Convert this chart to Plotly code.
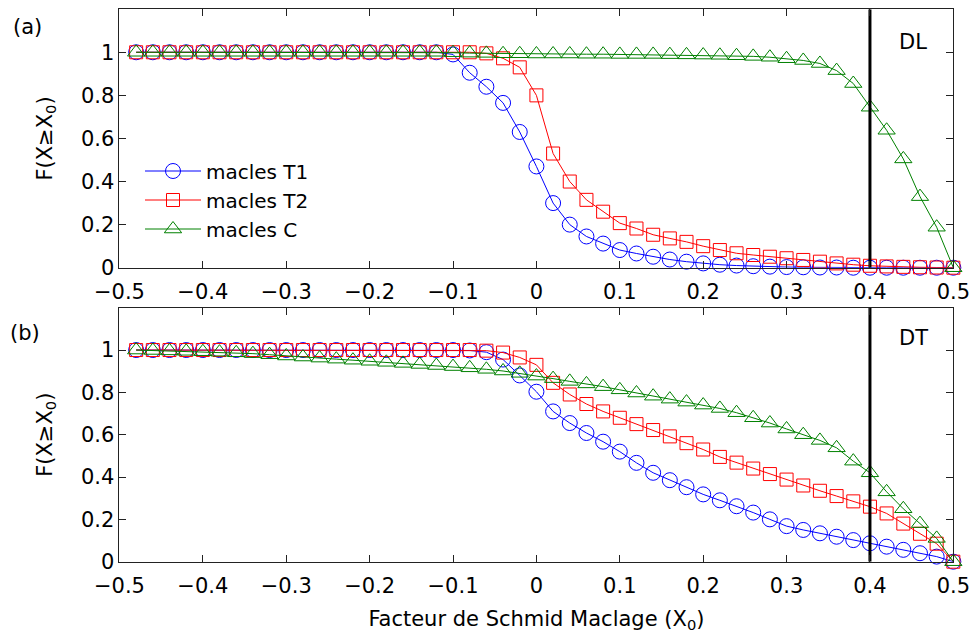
import plotly.graph_objects as go

# ---------------- data ----------------
x0 = [-0.48, -0.46, -0.44, -0.42, -0.40, -0.38, -0.36, -0.34, -0.32, -0.30,
      -0.28, -0.26, -0.24, -0.22, -0.20, -0.18, -0.16, -0.14, -0.12, -0.10,
      -0.08, -0.06, -0.04, -0.02, 0.00, 0.02, 0.04, 0.06, 0.08, 0.10,
      0.12, 0.14, 0.16, 0.18, 0.20, 0.22, 0.24, 0.26, 0.28, 0.30,
      0.32, 0.34, 0.36, 0.38, 0.40, 0.42, 0.44, 0.46, 0.48, 0.50]

# panel (a) DL
dl_t1 = [1.0] * 19 + [0.99, 0.905, 0.84, 0.765, 0.63, 0.47, 0.30, 0.20, 0.145, 0.112,
                      0.082, 0.066, 0.051, 0.038, 0.028, 0.02, 0.014, 0.01, 0.007, 0.005,
                      0.003, 0.002, 0.001, 0.001, 0.0, 0.0, 0.0, 0.0, 0.0, 0.0, 0.0]
dl_t2 = [1.0] * 21 + [0.995, 0.972, 0.93, 0.80, 0.53, 0.40, 0.315, 0.26, 0.207, 0.182,
                      0.153, 0.136, 0.12, 0.10, 0.082, 0.067, 0.059, 0.051, 0.044, 0.036,
                      0.028, 0.02, 0.014, 0.009, 0.006, 0.004, 0.002, 0.001, 0.0]
dl_c = [1.0] * 19 + [0.998, 0.996, 0.995, 0.993, 0.993, 0.992, 0.992, 0.992, 0.991, 0.991,
                     0.99, 0.99, 0.99, 0.989, 0.988, 0.987, 0.986, 0.984, 0.981, 0.977,
                     0.97, 0.962, 0.948, 0.915, 0.855, 0.745, 0.638, 0.505, 0.33, 0.188, 0.0]

# panel (b) DT
dt_t1 = [1.0] * 20 + [0.998, 0.99, 0.955, 0.88, 0.803, 0.71, 0.655, 0.608, 0.567, 0.52,
                      0.467, 0.42, 0.385, 0.352, 0.318, 0.29, 0.262, 0.232, 0.2, 0.168,
                      0.15, 0.134, 0.118, 0.102, 0.087, 0.071, 0.056, 0.04, 0.024, 0.0]
dt_t2 = [1.0] * 21 + [0.997, 0.988, 0.965, 0.93, 0.845, 0.79, 0.745, 0.71, 0.68, 0.65,
                      0.622, 0.592, 0.56, 0.53, 0.495, 0.468, 0.44, 0.414, 0.388, 0.36,
                      0.335, 0.31, 0.285, 0.26, 0.228, 0.18, 0.132, 0.085, 0.0]
dt_c = [1.0, 0.998, 0.996, 0.994, 0.992, 0.99, 0.987, 0.983, 0.978, 0.972,
        0.967, 0.962, 0.957, 0.952, 0.947, 0.942, 0.937, 0.932, 0.927, 0.922,
        0.916, 0.909, 0.901, 0.89, 0.877, 0.865, 0.852, 0.84, 0.827, 0.812,
        0.797, 0.782, 0.768, 0.754, 0.74, 0.724, 0.704, 0.68, 0.655, 0.627,
        0.6, 0.573, 0.538, 0.475, 0.42, 0.33, 0.25, 0.18, 0.11, 0.0]

for s in (dl_t1, dl_t2, dl_c, dt_t1, dt_t2, dt_c):
    assert len(s) == len(x0)

series_names = ["macles T1", "macles T2", "macles C"]
x_ticks = [-0.5, -0.4, -0.3, -0.2, -0.1, 0.0, 0.1, 0.2, 0.3, 0.4, 0.5]
y_ticks = [0, 0.2, 0.4, 0.6, 0.8, 1.0]
threshold = 0.4
panel_tags = ["(a)", "(b)"]
panel_dirs = ["DL", "DT"]

# ---------------- style ----------------
FONT = "DejaVu Sans"
colors = ["#0000ff", "#ff0000", "#008000"]
symbols = ["circle-open", "square-open", "triangle-up-open"]
msizes = [15, 13, 15]

fig = go.Figure()

panels = [(dl_t1, dl_t2, dl_c), (dt_t1, dt_t2, dt_c)]
for p, data in enumerate(panels):
    xa = "x" if p == 0 else "x2"
    ya = "y" if p == 0 else "y2"
    for i, ys in enumerate(data):
        fig.add_trace(go.Scatter(
            x=x0, y=ys, xaxis=xa, yaxis=ya,
            mode="lines+markers",
            name=series_names[i],
            showlegend=(p == 0),
            legendgroup=series_names[i],
            line=dict(color=colors[i], width=1),
            marker=dict(symbol=symbols[i], size=msizes[i], color=colors[i],
                        line=dict(width=1, color=colors[i])),
            cliponaxis=False,
        ))
    # vertical threshold line
    fig.add_trace(go.Scatter(
        x=[threshold, threshold], y=[0, 1.2], xaxis=xa, yaxis=ya,
        mode="lines", line=dict(color="black", width=3),
        showlegend=False, hoverinfo="skip"))

axis_common = dict(
    showline=True, linecolor="#222", linewidth=1, mirror="ticks",
    ticks="inside", ticklen=7, tickcolor="#222", tickwidth=1,
    showgrid=False, zeroline=False, automargin=False,
    tickfont=dict(family=FONT, size=21, color="black"),
)

fig.update_layout(
    width=973, height=642,
    margin=dict(l=0, r=0, t=0, b=0),
    paper_bgcolor="white", plot_bgcolor="white",
    font=dict(family=FONT, size=20, color="black"),
    xaxis=dict(domain=[0.1228, 0.9798], anchor="y", range=[-0.5, 0.5],
               tickvals=x_ticks, ticklabelstandoff=5, **axis_common),
    yaxis=dict(domain=[0.583, 0.9857], anchor="x", range=[0, 1.2],
               tickvals=y_ticks,
               title=dict(text="F(X≥X<sub>0</sub>)", font=dict(family=FONT, size=21),
                          standoff=22),
               **axis_common),
    xaxis2=dict(domain=[0.1228, 0.9798], anchor="y2", range=[-0.5, 0.5],
                tickvals=x_ticks, ticklabelstandoff=5,
                title=dict(text="Facteur de Schmid Maclage (X<sub>0</sub>)",
                           font=dict(family=FONT, size=21), standoff=14),
                **axis_common),
    yaxis2=dict(domain=[0.1251, 0.5207], anchor="x2", range=[0, 1.2],
                tickvals=y_ticks,
                title=dict(text="F(X≥X<sub>0</sub>)", font=dict(family=FONT, size=21),
                           standoff=22),
                **axis_common),
    legend=dict(x=140 / 973, y=0.764, xanchor="left", yanchor="top",
                bgcolor="rgba(0,0,0,0)", borderwidth=0,
                font=dict(family=FONT, size=20),
                itemwidth=56, tracegroupgap=0),
    showlegend=True,
)

annots = [
    dict(text=panel_tags[0], x=27 / 973, y=1 - 27 / 642),
    dict(text=panel_tags[1], x=25 / 973, y=1 - 333 / 642),
    dict(text=panel_dirs[0], x=913 / 973, y=1 - 42 / 642),
    dict(text=panel_dirs[1], x=913 / 973, y=1 - 338 / 642),
]
for a in annots:
    fig.add_annotation(xref="paper", yref="paper", showarrow=False,
                       xanchor="center", yanchor="middle",
                       font=dict(family=FONT, size=21, color="black"), **a)

fig.write_html("out.html",
               config={"displayModeBar": False},
               post_script="document.body.style.margin='0';document.body.style.overflow='hidden';")
